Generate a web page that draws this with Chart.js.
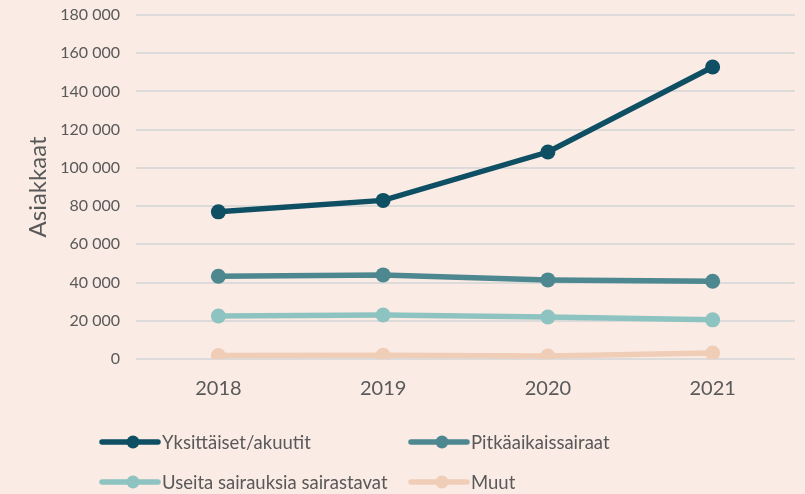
<!DOCTYPE html>
<html>
<head>
<meta charset="utf-8">
<script src="https://cdn.jsdelivr.net/npm/chart.js@4/dist/chart.umd.min.js"></script>
<style>
  html, body { margin: 0; padding: 0; background: #faebe4; }
  #wrap { width: 805px; height: 494px; }
</style>
</head>
<body>
<div id="wrap"><canvas id="chart" width="805" height="494"></canvas></div>
<script>
const years = ["2018", "2019", "2020", "2021"];
const yksittaiset = [77000, 83000, 108300, 152800];
const pitkaaikais = [43300, 44000, 41400, 40700];
const useita = [22500, 23000, 22000, 20500];
const muut = [1800, 1900, 1600, 3100];
const yTicks = [0, 20000, 40000, 60000, 80000, 100000, 120000, 140000, 160000, 180000];

const FONT = "Lato, 'Open Sans', sans-serif";
const TEXT = "#595959";

function series(label, data, color) {
  return {
    label: label,
    data: data,
    borderColor: color,
    backgroundColor: color,
    borderWidth: 5.5,
    pointRadius: 7.5,
    pointHoverRadius: 7.5,
    pointBorderWidth: 0,
    tension: 0
  };
}

// legend drawn as a 2x2 grid like the original
const gridLegend = {
  id: "gridLegend",
  afterDraw(chart) {
    const ctx = chart.ctx;
    const cols = [102, 411];
    const rows = [442, 482];
    ctx.save();
    ctx.font = "18.5px " + FONT;
    ctx.textBaseline = "middle";
    chart.data.datasets.forEach((ds, i) => {
      const x = cols[i % 2];
      const y = rows[Math.floor(i / 2)];
      ctx.strokeStyle = ds.borderColor;
      ctx.lineWidth = 5.5;
      ctx.lineCap = "round";
      ctx.beginPath();
      ctx.moveTo(x, y);
      ctx.lineTo(x + 56, y);
      ctx.stroke();
      ctx.fillStyle = ds.borderColor;
      ctx.beginPath();
      ctx.arc(x + 31, y, 6.5, 0, Math.PI * 2);
      ctx.fill();
      ctx.fillStyle = TEXT;
      ctx.fillText(ds.label, x + 60, y + 1);
    });
    ctx.restore();
  }
};

new Chart(document.getElementById("chart"), {
  type: "line",
  data: {
    labels: years,
    datasets: [
      series("Yksittäiset/akuutit", yksittaiset, "#0e4f63"),
      series("Pitkäaikaissairaat", pitkaaikais, "#4d8790"),
      series("Useita sairauksia sairastavat", useita, "#8dc3c0"),
      series("Muut", muut, "#f0cdb7")
    ]
  },
  options: {
    responsive: false,
    animation: false,
    layout: { padding: { top: 15, right: 10, left: 0, bottom: 0 } },
    plugins: {
      legend: { display: false },
      tooltip: { enabled: false }
    },
    scales: {
      x: {
        offset: true,
        grid: { display: false, drawTicks: false },
        border: { display: false },
        ticks: { color: TEXT, font: { family: FONT, size: 20 }, padding: 18 },
        afterFit(scale) { scale.height = 135; }
      },
      y: {
        min: 0,
        max: 180000,
        afterBuildTicks(scale) { scale.ticks = yTicks.map(v => ({ value: v })); },
        grid: { color: "#dcdbd9", lineWidth: 2, drawTicks: false },
        border: { display: false },
        ticks: {
          color: TEXT,
          font: { family: FONT, size: 16 },
          padding: 16,
          callback: v => v.toLocaleString("fi-FI").replace(/\s/g, " ")
        },
        title: {
          display: true,
          text: "Asiakkaat",
          color: TEXT,
          font: { family: FONT, size: 24 },
          padding: { top: 24, bottom: 0 }
        },
        afterFit(scale) {
          scale.width = 136;
          scale.paddingTop = 0;
          scale.paddingBottom = 0;
        }
      }
    }
  },
  plugins: [gridLegend]
});
</script>
</body>
</html>
